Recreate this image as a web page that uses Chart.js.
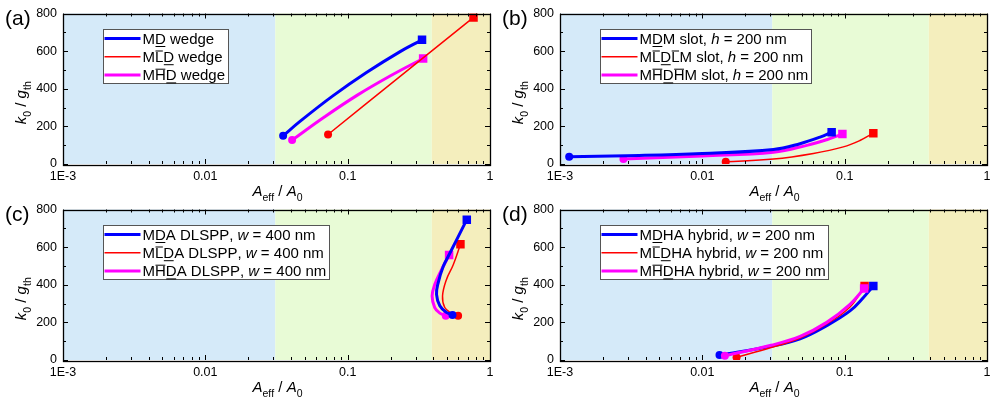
<!DOCTYPE html>
<html>
<head>
<meta charset="utf-8">
<script src="https://cdn.jsdelivr.net/npm/chart.js@4.4.0/dist/chart.umd.min.js"></script>
<style>
  body { margin: 0; background: #fff; width: 1005px; height: 403px; overflow: hidden; }
  canvas { position: absolute; }
</style>
</head>
<body>
<canvas id="chartA" width="502" height="207" style="left:0;top:0"></canvas>
<canvas id="chartB" width="502" height="207" style="left:497px;top:0"></canvas>
<canvas id="chartC" width="502" height="207" style="left:0;top:196px"></canvas>
<canvas id="chartD" width="502" height="207" style="left:497px;top:196px"></canvas>
<script>
// x axis: decades and their labels
const xDecades = [0.001, 0.01, 0.1, 1];
const xTickLabels = ['1E-3', '0.01', '0.1', '1'];

// shaded bands along x
const regionEdges = [0.001, 0.031, 0.39, 1];
const regionColors = ['#d5eaf9', '#e8fbd6', '#f4eebd'];

// (a) wedge
const aLabels = ['MD\u0332 wedge', 'ML\u0305D\u0332 wedge', 'MH\u0305D\u0332 wedge'];
const aBlueX = [0.0352, 0.046, 0.0787, 0.1355, 0.232, 0.333];
const aBlueY = [150, 225, 362, 486, 596, 660];
const aRedX = [0.0728, 0.236, 0.766];
const aRedY = [157, 468, 779];
const aMagX = [0.0407, 0.069, 0.117, 0.2, 0.339];
const aMagY = [127, 251, 366, 469, 561];

// (b) slot
const bLabels = ['MD\u0332M slot, *h* = 200 nm', 'ML\u0305D\u0332L\u0305M slot, *h* = 200 nm', 'MH\u0305D\u0332H\u0305M slot, *h* = 200 nm'];
const bBlueX = [0.00116, 0.00294, 0.01, 0.0316, 0.0486, 0.0672, 0.081];
const bBlueY = [38, 44, 56, 77, 108, 143, 169];
const bRedX = [0.0146, 0.0316, 0.0603, 0.0978, 0.128, 0.159];
const bRedY = [12, 26, 56, 91, 125, 164];
const bMagX = [0.00279, 0.01, 0.0316, 0.0542, 0.0748, 0.0964];
const bMagY = [26, 43, 63, 99, 129, 159];

// (c) DLSPP
const cLabels = ['MD\u0332A DLSPP, *w* = 400 nm', 'ML\u0305D\u0332A DLSPP, *w* = 400 nm', 'MH\u0305D\u0332A DLSPP, *w* = 400 nm'];
const cBlueX = [0.545, 0.494, 0.444, 0.421, 0.432, 0.469, 0.521, 0.687];
const cBlueY = [239, 253, 288, 349, 409, 497, 566, 746];
const cRedX = [0.597, 0.536, 0.481, 0.464, 0.494, 0.551, 0.62];
const cRedY = [235, 249, 279, 340, 427, 505, 615];
const cMagX = [0.489, 0.444, 0.409, 0.392, 0.409, 0.456, 0.516];
const cMagY = [235, 249, 279, 340, 401, 479, 558];

// (d) hybrid
const dLabels = ['MD\u0332HA hybrid, *w* = 200 nm', 'ML\u0305D\u0332HA hybrid, *w* = 200 nm', 'MH\u0305D\u0332HA hybrid, *w* = 200 nm'];
const dBlueX = [0.0132, 0.0304, 0.0486, 0.0748, 0.109, 0.135, 0.159];
const dBlueY = [26, 73, 113, 183, 261, 331, 393];
const dRedX = [0.0174, 0.0304, 0.0486, 0.0748, 0.109, 0.138];
const dRedY = [14, 66, 117, 192, 282, 393];
const dMagX = [0.0144, 0.0304, 0.0486, 0.0748, 0.109, 0.137];
const dMagY = [23, 78, 125, 200, 296, 380];

const seriesColors = ['#0000ff', '#ff0000', '#ff00ff'];
const seriesWidths = [3, 1.5, 3];

const FONT = '"Liberation Sans", Arial, Helvetica, sans-serif';
Chart.defaults.font.family = FONT;
Chart.defaults.color = '#000';

// minor + major tick values for the log axis
const xTickValues = [];
for (let i = 0; i < xDecades.length - 1; i++) {
    for (let k = 1; k <= 9; k++) xTickValues.push(xDecades[i] * k);
}
xTickValues.push(xDecades[xDecades.length - 1]);

function isDecade(v) {
    const l = Math.log10(v);
    return Math.abs(l - Math.round(l)) < 1e-6;
}

// draws text made of segments, with italic / subscript and combining under/over lines
function drawRich(ctx, segs, x, y, size, draw) {
    for (const s of segs) {
        const fs = s.sub ? size * 0.7 : size;
        ctx.font = (s.it ? 'italic ' : '') + fs + 'px ' + FONT;
        const dy = s.sub ? size * 0.3 : 0;
        const chars = Array.from(s.t);
        for (let i = 0; i < chars.length; i++) {
            const c = chars[i];
            if (c === '\u0332' || c === '\u0305') continue;
            const w = ctx.measureText(c).width;
            if (draw) {
                ctx.fillText(c, x, y + dy);
                const next = chars[i + 1];
                if (next === '\u0332') ctx.fillRect(x + 0.5, y + dy + 2, w - 1, 1);
                if (next === '\u0305') ctx.fillRect(x + 0.5, y + dy - fs * 0.78, w - 1, 1);
            }
            x += w;
        }
    }
    return x;
}

function labelSegs(label) {
    return label.split('*').map((t, i) => ({ t: t, it: i % 2 === 1 }));
}

const yTitle = [{ t: 'k', it: true }, { t: '0', sub: true }, { t: ' / ' }, { t: 'g', it: true }, { t: 'th', sub: true }];
const xTitle = [{ t: 'A', it: true }, { t: 'eff', sub: true }, { t: ' / ' }, { t: 'A', it: true }, { t: '0', sub: true }];

const panelDeco = {
    id: 'panelDeco',
    beforeDatasetsDraw(chart) {
        const { ctx, chartArea: a } = chart;
        const x = chart.scales.x;
        ctx.save();
        for (let i = 0; i < regionColors.length; i++) {
            const x0 = x.getPixelForValue(regionEdges[i]);
            const x1 = x.getPixelForValue(regionEdges[i + 1]);
            ctx.fillStyle = regionColors[i];
            ctx.fillRect(x0, a.top, x1 - x0, a.bottom - a.top);
        }
        ctx.restore();
    },
    afterDatasetsDraw(chart, args, opts) {
        const { ctx, chartArea: a } = chart;
        const x = chart.scales.x;
        const y = chart.scales.y;
        ctx.save();

        // frame + inward ticks
        ctx.strokeStyle = '#000';
        ctx.lineWidth = 1;
        ctx.beginPath();
        x.ticks.forEach(t => {
            const px = Math.round(x.getPixelForValue(t.value)) + 0.5;
            const len = isDecade(t.value) ? 5 : 3;
            ctx.moveTo(px, a.bottom); ctx.lineTo(px, a.bottom - len);
            ctx.moveTo(px, a.top); ctx.lineTo(px, a.top + len);
        });
        y.ticks.forEach(t => {
            const py = Math.round(y.getPixelForValue(t.value)) + 0.5;
            const len = t.value % 200 === 0 ? 5 : 3;
            ctx.moveTo(a.left, py); ctx.lineTo(a.left + len, py);
            ctx.moveTo(a.right, py); ctx.lineTo(a.right - len, py);
        });
        ctx.stroke();
        ctx.lineWidth = 1.3;
        ctx.strokeRect(Math.round(a.left) + 0.5, Math.round(a.top) + 0.5, Math.round(a.right - a.left), Math.round(a.bottom - a.top));

        // legend box
        const lx = Math.round(a.left + 40) + 0.5, ly = Math.round(a.top + 15) + 0.5;
        const rowH = 18.2, fs = 15;
        let tw = 0;
        chart.data.datasets.forEach(ds => {
            tw = Math.max(tw, drawRich(ctx, labelSegs(ds.label), 0, 0, fs, false));
        });
        const bw = Math.round(39 + tw + 3), bh = 54;
        ctx.fillStyle = '#fff';
        ctx.fillRect(lx, ly, bw, bh);
        ctx.strokeStyle = '#555';
        ctx.lineWidth = 1;
        ctx.strokeRect(lx, ly, bw, bh);
        chart.data.datasets.forEach((ds, i) => {
            const cy = ly + 9 + i * rowH;
            ctx.strokeStyle = ds.borderColor;
            ctx.lineWidth = ds.borderWidth;
            ctx.beginPath();
            ctx.moveTo(lx + 1, cy);
            ctx.lineTo(lx + 37, cy);
            ctx.stroke();
            ctx.fillStyle = '#000';
            ctx.textBaseline = 'alphabetic';
            drawRich(ctx, labelSegs(ds.label), lx + 39, cy + 5.5, fs, true);
        });

        // axis titles
        ctx.fillStyle = '#000';
        const tfs = 15;
        const yw = drawRich(ctx, yTitle, 0, 0, tfs, false);
        ctx.save();
        ctx.translate(26, (a.top + a.bottom) / 2 + 14);
        ctx.rotate(-Math.PI / 2);
        drawRich(ctx, yTitle, -yw / 2, 0, tfs, true);
        ctx.restore();
        const xw = drawRich(ctx, xTitle, 0, 0, tfs, false);
        drawRich(ctx, xTitle, (a.left + a.right) / 2 + 1 - xw / 2, 196, tfs, true);

        // panel tag
        ctx.font = '21px ' + FONT;
        ctx.fillText(opts.tag, 5, 25);
        ctx.restore();
    }
};

function makeChart(id, tag, labels, xs, ys, order) {
    const datasets = labels.map((label, i) => {
        const n = xs[i].length;
        return {
            label: label,
            data: xs[i].map((v, j) => ({ x: v, y: ys[i][j] })),
            showLine: true,
            borderColor: seriesColors[i],
            backgroundColor: seriesColors[i],
            borderWidth: seriesWidths[i],
            tension: 0.4,
            order: order[i],
            pointStyle: xs[i].map((v, j) => j === 0 ? 'circle' : (j === n - 1 ? 'rect' : 'circle')),
            pointRadius: xs[i].map((v, j) => j === 0 ? 4 : (j === n - 1 ? 6 : 0)),
            pointBorderWidth: 0,
            pointBackgroundColor: seriesColors[i]
        };
    });

    return new Chart(document.getElementById(id), {
        type: 'scatter',
        data: { datasets: datasets },
        options: {
            responsive: false,
            animation: false,
            events: [],
            layout: { padding: { top: 11, right: 12, left: 0, bottom: 0 } },
            plugins: {
                legend: { display: false },
                tooltip: { enabled: false },
                panelDeco: { tag: tag }
            },
            scales: {
                x: {
                    type: 'logarithmic',
                    min: 0.001,
                    max: 1,
                    grid: { display: false, drawTicks: false },
                    border: { display: false },
                    afterBuildTicks: s => { s.ticks = xTickValues.map(v => ({ value: v })); },
                    afterFit: s => { s.height = 43; },
                    ticks: {
                        autoSkip: false,
                        maxRotation: 0,
                        padding: 5,
                        font: { size: 12.5 },
                        color: '#000',
                        callback: v => {
                            const k = xDecades.findIndex(d => Math.abs(d - v) / d < 1e-6);
                            return k >= 0 ? xTickLabels[k] : '';
                        }
                    }
                },
                y: {
                    min: 0,
                    max: 800,
                    grid: { display: false, drawTicks: false },
                    border: { display: false },
                    afterFit: s => { s.width = 63; },
                    ticks: {
                        stepSize: 100,
                        padding: 6,
                        font: { size: 12.5 },
                        color: '#000',
                        callback: v => v % 200 === 0 ? v : ''
                    }
                }
            }
        },
        plugins: [panelDeco]
    });
}

makeChart('chartA', '(a)', aLabels, [aBlueX, aRedX, aMagX], [aBlueY, aRedY, aMagY], [0, 1, 2]);
makeChart('chartB', '(b)', bLabels, [bBlueX, bRedX, bMagX], [bBlueY, bRedY, bMagY], [0, 1, 2]);
makeChart('chartC', '(c)', cLabels, [cBlueX, cRedX, cMagX], [cBlueY, cRedY, cMagY], [0, 1, 2]);
makeChart('chartD', '(d)', dLabels, [dBlueX, dRedX, dMagX], [dBlueY, dRedY, dMagY], [2, 1, 0]);
</script>
</body>
</html>
